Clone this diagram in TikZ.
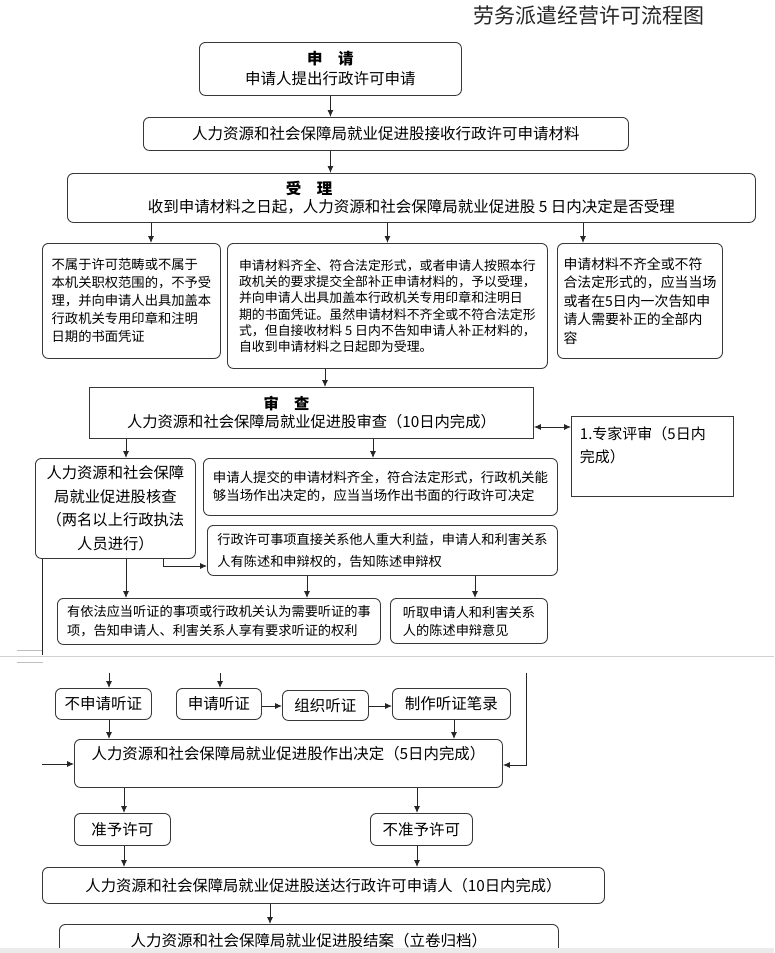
\documentclass[tikz,border=0pt]{standalone}
\usepackage{fontspec}
\setmainfont{Noto Sans CJK SC}
\usetikzlibrary{arrows.meta}
\newcommand{\myfs}[2]{\fontsize{#1pt}{#2pt}\selectfont}
\begin{document}
\begin{tikzpicture}[x=1pt,y=-1pt,
  box/.style={draw=black!78, line width=0.9pt, rounded corners=6pt, inner sep=0pt, anchor=north west, align=center, font=\myfs{15.5}{19}},
  sq/.style={box, sharp corners},
  arr/.style={draw=black!85, line width=0.9pt, -{Latex[length=7pt,width=6pt]}},
  dbl/.style={draw=black!85, line width=0.9pt, {Latex[length=7pt,width=6pt]}-{Latex[length=7pt,width=6pt]}},
  ln/.style={draw=black!85, line width=0.9pt},
  brk/.style={draw=black!18, line width=1pt},
]
\useasboundingbox (0,0) rectangle (774,953);

% title
\node[font=\myfs{21}{24}, text=black!85, anchor=center] (title) at (589,16) {劳务派遣经营许可流程图};

% boxes
\node[box, minimum width=262, minimum height=53, font=\myfs{15.5}{20}] (b1) at (199,42) {{\bfseries 申\hspace{1em}请}\\申请人提出行政许可申请};
\node[box, minimum width=485, minimum height=33] (b2) at (143,117) {人力资源和社会保障局就业促进股接收行政许可申请材料};
\node[box, minimum width=688, minimum height=49, align=left, font=\myfs{15.5}{18}] (b3) at (67,173) {\hspace*{138pt}{\bfseries 受\hspace{1em}理}\\收到申请材料之日起，人力资源和社会保障局就业促进股 5 日内决定是否受理};

\node[box, minimum width=178, minimum height=115, align=left, font=\myfs{13.3}{18}] (b4a) at (42,243) {不属于许可范畴或不属于\\本机关职权范围的，不予受\\理，并向申请人出具加盖本\\行政机关专用印章和注明\\日期的书面凭证};
\node[box, minimum width=320, minimum height=125, align=left, font=\myfs{12.9}{16.3}] (b4b) at (227,243) {申请材料齐全、符合法定形式，或者申请人按照本行\\政机关的要求提交全部补正申请材料的，予以受理，\\并向申请人出具加盖本行政机关专用印章和注明日\\期的书面凭证。虽然申请材料不齐全或不符合法定形\\式，但自接收材料 5 日内不告知申请人补正材料的，\\自收到申请材料之日起即为受理。};
\node[box, minimum width=165, minimum height=115, align=left, font=\myfs{13.9}{18.5}] (b4c) at (557,243) {申请材料不齐全或不符\\合法定形式的，应当当场\\或者在5日内一次告知申\\请人需要补正的全部内\\容};

\node[sq, minimum width=444, minimum height=51, font=\myfs{15.3}{18}] (b5) at (89,387) {{\bfseries 审\hspace{1em}查}\hspace*{50pt}\\人力资源和社会保障局就业促进股审查（10日内完成）};
\node[sq, align=left, text width=145pt, inner xsep=8.5pt, text height=23pt, text depth=57pt, font=\myfs{15}{23}] (bx) at (571,416) {1.专家评审（5日内\\完成）};

\node[box, minimum width=160, minimum height=100, font=\myfs{15.3}{23.5}] (b6a) at (35,458) {人力资源和社会保障\\局就业促进股核查\\（两名以上行政执法\\人员进行）};
\node[box, minimum width=354, minimum height=57, align=left, font=\myfs{13.4}{18}] (b6b) at (203,458) {申请人提交的申请材料齐全，符合法定形式，行政机关能\\够当场作出决定的，应当当场作出书面的行政许可决定};
\node[box, minimum width=350, minimum height=50, align=left, font=\myfs{13.2}{22}] (b6c) at (207,525) {行政许可事项直接关系他人重大利益，申请人和利害关系\\人有陈述和申辩权的，告知陈述申辩权};

\node[box, minimum width=323, minimum height=46, align=left, font=\myfs{13.2}{19}] (b7a) at (57,598) {有依法应当听证的事项或行政机关认为需要听证的事\\项，告知申请人、利害关系人享有要求听证的权利};
\node[box, minimum width=157, minimum height=45, align=left, font=\myfs{13.2}{18}] (b7b) at (390,598) {听取申请人和利害关系\\人的陈述申辩意见};

% page break artefact
\draw[brk] (0,656) -- (774,656);
\draw[draw=black!25, line width=0.8pt] (17,650) -- (43,650) (17,662) -- (43,662);

\node[box, minimum width=96, minimum height=31] (b9a) at (55,688) {不申请听证};
\node[box, minimum width=85, minimum height=31] (b9b) at (176,688) {申请听证};
\node[box, minimum width=86, minimum height=30] (b9c) at (282,690) {组织听证};
\node[box, minimum width=118, minimum height=31] (b9d) at (392,688) {制作听证笔录};

\node[box, minimum width=428, text height=20pt, text depth=28pt, font=\myfs{15.4}{18}] (b8) at (74,739) {人力资源和社会保障局就业促进股作出决定（5日内完成）};

\node[box, minimum width=96, minimum height=32] (b10a) at (74,813) {准予许可};
\node[box, minimum width=102, minimum height=32] (b10b) at (370,813) {不准予许可};

\node[box, minimum width=562, minimum height=36, font=\myfs{15.3}{18}] (b11) at (42,867) {人力资源和社会保障局就业促进股送达行政许可申请人（10日内完成）};
\node[box, minimum width=499, minimum height=32] (b12) at (59,924) {人力资源和社会保障局就业促进股结案（立卷归档）};

% coordinates
\coordinate (xA) at (151,0);
\coordinate (xC) at (583,0);
\coordinate (xD) at (325,0);
\coordinate (yE) at (0,427);
\coordinate (xF) at (126,0);
\coordinate (xG) at (373,0);
\coordinate (xH) at (163,0);
\coordinate (yI) at (0,566);
\coordinate (xJ) at (42,0);
\coordinate (brkL) at (42,655);
\coordinate (xK) at (307,0);
\coordinate (xL) at (475,0);
\coordinate (topA) at (109,673);
\coordinate (topB) at (220,673);
\coordinate (yM) at (0,706);
\coordinate (xN) at (454,0);
\coordinate (lftS) at (42,764);
\coordinate (rtT) at (526,673);
\coordinate (yP) at (0,765);
\coordinate (xQ) at (124,0);
\coordinate (xR) at (417,0);
\coordinate (xS) at (270,0);

% connectors
\draw[arr] (b1.south) -- (b1.south |- b2.north);
\draw[arr] (b1.south |- b2.south) -- (b1.south |- b3.north);
\draw[arr] (b3.south -| xA) -- (b4a.north -| xA);
\draw[arr] (b3.south -| b4b.north) -- (b4b.north);
\draw[arr] (b3.south -| xC) -- (b4c.north -| xC);
\draw[arr] (b4b.south -| xD) -- (b5.north -| xD);
\draw[dbl] (b5.east |- yE) -- (bx.west |- yE);
\draw[arr] (b5.south -| xF) -- (b6a.north -| xF);
\draw[arr] (b5.south -| xG) -- (b6b.north -| xG);
\draw[arr] (b6a.south -| xF) -- (b7a.north -| xF);
\draw[arr] (b6a.south -| xH) -- (xH |- yI) -- (b6c.west |- yI);
\draw[ln] (b6a.south -| xJ) -- (brkL);
\draw[arr] (b6c.south -| xK) -- (b7a.north -| xK);
\draw[arr] (b6c.south -| xL) -- (b7b.north -| xL);
\draw[arr] (topA) -- (b9a.north -| topA);
\draw[arr] (topB) -- (b9b.north -| topB);
\draw[arr] (b9b.east |- yM) -- (b9c.west |- yM);
\draw[arr] (b9c.east |- yM) -- (b9d.west |- yM);
\draw[arr] (b9a.south -| topA) -- (b8.north -| topA);
\draw[arr] (b9d.south -| xN) -- (b8.north -| xN);
\draw[arr] (lftS) -- (b8.west |- lftS);
\draw[arr] (rtT) -- (rtT |- yP) -- (b8.east |- yP);
\draw[arr] (b8.south -| xQ) -- (b10a.north -| xQ);
\draw[arr] (b8.south -| xR) -- (b10b.north -| xR);
\draw[arr] (b10a.south -| xQ) -- (b11.north -| xQ);
\draw[arr] (b10b.south -| xR) -- (b11.north -| xR);
\draw[arr] (b11.south -| xS) -- (b12.north -| xS);

% bottom band
\fill[black!8] (0,948) rectangle (774,953);
\end{tikzpicture}
\end{document}
